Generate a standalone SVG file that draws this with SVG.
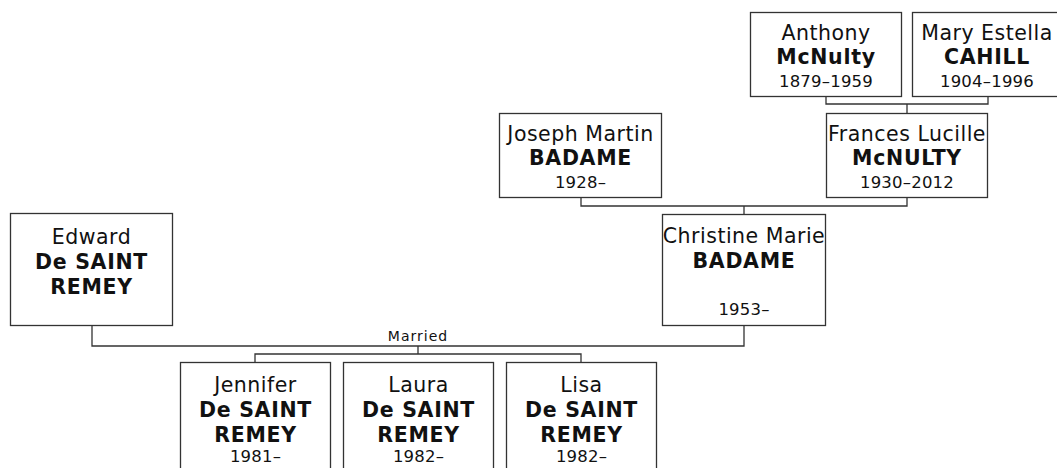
<svg xmlns="http://www.w3.org/2000/svg" width="1057" height="468" viewBox="0 0 1057 468">
<style>
.box{fill:#fff;stroke:#333;stroke-width:1.3}
.ln{fill:none;stroke:#333;stroke-width:1.3}
text{font-family:"DejaVu Sans",Verdana,sans-serif;fill:#111;text-anchor:middle}
.n{font-size:20.5px;letter-spacing:0.5px}
.s{font-size:20.5px;font-weight:bold;letter-spacing:0.7px}
.y{font-size:16.5px;letter-spacing:0.2px}
.lbl{font-size:14px;letter-spacing:1px}
</style>
<rect width="1057" height="468" fill="#fff"/>
<g id="connectors">
<path class="ln" d="M826,97V104H988V97M907,104V113"/>
<path class="ln" d="M581,198V206H907V198M744,206V214"/>
<path class="ln" d="M92,326V346H744V326M418,346V354M255,362V354H581V362"/>
<text class="lbl" x="418" y="341">Married</text>
</g>
<g id="anthony">
<rect class="box" x="750.5" y="12.5" width="151" height="84"/>
<text class="n" x="826" y="39.5">Anthony</text>
<text class="s" x="826" y="63.5">McNulty</text>
<text class="y" x="826" y="86.5">1879–1959</text>
</g>
<g id="mary">
<rect class="box" x="912.5" y="12.5" width="150" height="84"/>
<text class="n" x="987" y="39.5">Mary Estella</text>
<text class="s" x="987" y="63.5">CAHILL</text>
<text class="y" x="987" y="86.5">1904–1996</text>
</g>
<g id="joseph">
<rect class="box" x="499.5" y="113.5" width="162" height="84"/>
<text class="n" x="580.5" y="141">Joseph Martin</text>
<text class="s" x="580.5" y="165">BADAME</text>
<text class="y" x="580.5" y="187.5">1928–</text>
</g>
<g id="frances">
<rect class="box" x="826.5" y="113.5" width="161" height="84"/>
<text class="n" x="907" y="141">Frances Lucille</text>
<text class="s" x="907" y="165">McNULTY</text>
<text class="y" x="907" y="187.5">1930–2012</text>
</g>
<g id="christine">
<rect class="box" x="662.5" y="214.5" width="163" height="111"/>
<text class="n" x="744" y="243">Christine Marie</text>
<text class="s" x="744" y="268">BADAME</text>
<text class="y" x="744" y="315">1953–</text>
</g>
<g id="edward">
<rect class="box" x="10.5" y="213.5" width="162" height="112"/>
<text class="n" x="91.5" y="244">Edward</text>
<text class="s" x="91.5" y="269">De SAINT</text>
<text class="s" x="91.5" y="294">REMEY</text>
</g>
<g id="jennifer">
<rect class="box" x="180.5" y="362.5" width="150" height="112"/>
<text class="n" x="255.5" y="391.7">Jennifer</text>
<text class="s" x="255.5" y="416.7">De SAINT</text>
<text class="s" x="255.5" y="441.7">REMEY</text>
<text class="y" x="255.5" y="461.7">1981–</text>
</g>
<g id="laura">
<rect class="box" x="343.5" y="362.5" width="150" height="112"/>
<text class="n" x="418.5" y="391.7">Laura</text>
<text class="s" x="418.5" y="416.7">De SAINT</text>
<text class="s" x="418.5" y="441.7">REMEY</text>
<text class="y" x="418.5" y="461.7">1982–</text>
</g>
<g id="lisa">
<rect class="box" x="506.5" y="362.5" width="150" height="112"/>
<text class="n" x="581.5" y="391.7">Lisa</text>
<text class="s" x="581.5" y="416.7">De SAINT</text>
<text class="s" x="581.5" y="441.7">REMEY</text>
<text class="y" x="581.5" y="461.7">1982–</text>
</g>
</svg>
